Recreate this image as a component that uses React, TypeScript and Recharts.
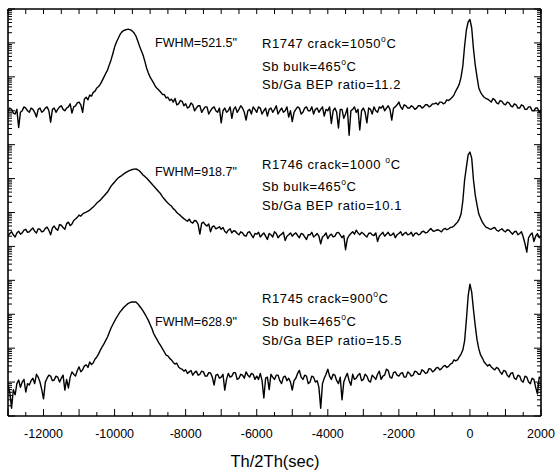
import React from 'react';
import { LineChart, Line, XAxis, YAxis } from 'recharts';

// Th/2Th positions (sec), 20 per row (one row = 1000 sec)
const xs = [
  -13000, -12950, -12900, -12850, -12800, -12750, -12700, -12650, -12600, -12550, -12500, -12450, -12400, -12350, -12300, -12250, -12200, -12150, -12100, -12050,
  -12000, -11950, -11900, -11850, -11800, -11750, -11700, -11650, -11600, -11550, -11500, -11450, -11400, -11350, -11300, -11250, -11200, -11150, -11100, -11050,
  -11000, -10950, -10900, -10850, -10800, -10750, -10700, -10650, -10600, -10550, -10500, -10450, -10400, -10350, -10300, -10250, -10200, -10150, -10100, -10050,
  -10000, -9950, -9900, -9850, -9800, -9750, -9700, -9650, -9600, -9550, -9500, -9450, -9400, -9350, -9300, -9250, -9200, -9150, -9100, -9050,
  -9000, -8950, -8900, -8850, -8800, -8750, -8700, -8650, -8600, -8550, -8500, -8450, -8400, -8350, -8300, -8250, -8200, -8150, -8100, -8050,
  -8000, -7950, -7900, -7850, -7800, -7750, -7700, -7650, -7600, -7550, -7500, -7450, -7400, -7350, -7300, -7250, -7200, -7150, -7100, -7050,
  -7000, -6950, -6900, -6850, -6800, -6750, -6700, -6650, -6600, -6550, -6500, -6450, -6400, -6350, -6300, -6250, -6200, -6150, -6100, -6050,
  -6000, -5950, -5900, -5850, -5800, -5750, -5700, -5650, -5600, -5550, -5500, -5450, -5400, -5350, -5300, -5250, -5200, -5150, -5100, -5050,
  -5000, -4950, -4900, -4850, -4800, -4750, -4700, -4650, -4600, -4550, -4500, -4450, -4400, -4350, -4300, -4250, -4200, -4150, -4100, -4050,
  -4000, -3950, -3900, -3850, -3800, -3750, -3700, -3650, -3600, -3550, -3500, -3450, -3400, -3350, -3300, -3250, -3200, -3150, -3100, -3050,
  -3000, -2950, -2900, -2850, -2800, -2750, -2700, -2650, -2600, -2550, -2500, -2450, -2400, -2350, -2300, -2250, -2200, -2150, -2100, -2050,
  -2000, -1950, -1900, -1850, -1800, -1750, -1700, -1650, -1600, -1550, -1500, -1450, -1400, -1350, -1300, -1250, -1200, -1150, -1100, -1050,
  -1000, -950, -900, -850, -800, -750, -700, -650, -600, -550, -500, -450, -400, -350, -300, -250, -200, -150, -100, -50,
  0, 50, 100, 150, 200, 250, 300, 350, 400, 450, 500, 550, 600, 650, 700, 750, 800, 850, 900, 950,
  1000, 1050, 1100, 1150, 1200, 1250, 1300, 1350, 1400, 1450, 1500, 1550, 1600, 1650, 1700, 1750, 1800, 1850, 1900, 1950,
  2000,
];

// R1747 intensities (counts)
const r1747 = [
  9.5, 12, 11, 8.5, 8, 11, 3.2, 9, 10, 13, 12, 10, 9, 12, 11, 9, 6.5, 11, 12, 9,
  10, 12, 13, 10, 4.6, 11, 12, 9, 11, 13, 14, 11, 10, 12, 13, 16, 8.5, 13, 14, 17,
  18, 15, 9, 22, 25, 21, 29, 27, 35, 38, 47, 52, 61, 77, 98, 125, 158, 225, 315, 480,
  755, 1050, 1350, 1750, 2080, 2300, 2400, 2500, 2520, 2420, 2230, 1950, 1600, 1150, 810, 600, 440, 290, 182, 130,
  98, 80, 65, 52, 45, 40, 35, 30, 30, 24, 25, 20, 22, 18, 23, 15, 16, 20, 19, 14,
  16, 12, 13, 17, 15, 10, 12, 14, 14, 9, 11, 13, 13, 8, 10, 12, 13, 10, 9, 12,
  4.4, 10, 12, 9, 10, 13, 6, 11, 13, 9, 11, 14, 12, 9, 5.3, 10, 11, 8, 13, 11,
  9, 13, 12, 8, 10, 12, 7, 11, 12, 9, 11, 14, 8, 10, 12, 9, 10, 13, 6.5, 10,
  4.8, 9, 11, 13, 12, 8, 9, 12, 13, 10, 10, 13, 8, 11, 12, 9, 11, 13, 7, 11,
  10, 13, 4.2, 10, 12, 9, 3.1, 11, 11, 6, 8, 12, 1.9, 10, 11, 13, 9, 11, 2.7, 10,
  12, 9, 4.4, 12, 11, 8, 13, 10, 9, 13, 12, 14, 10, 12, 14, 11, 5.3, 12, 13, 15,
  18, 13, 11, 15, 14, 12, 12, 14, 13, 11, 12, 14, 14, 12, 13, 15, 15, 13, 14, 16,
  16, 17, 15, 18, 18, 16, 17, 21, 20, 22, 25, 29, 38, 47, 61, 98, 208, 810, 2400, 4150,
  4900, 2750, 660, 220, 98, 47, 35, 29, 25, 23, 22, 20, 18, 23, 21, 17, 16, 20, 19, 16,
  15, 18, 17, 14, 13, 16, 15, 12, 12, 15, 14, 11, 11, 13, 13, 10, 10, 12, 12, 9,
  11,
];

// R1746 intensities (counts)
const r1746 = [
  20, 24, 27, 22, 19, 25, 28, 23, 25, 30, 32, 26, 27, 31, 35, 28, 25, 33, 32, 27,
  28, 34, 37, 30, 22, 35, 40, 33, 30, 44, 42, 36, 32, 47, 52, 41, 46, 58, 64, 72,
  84, 78, 90, 98, 103, 110, 118, 132, 145, 165, 190, 210, 232, 268, 305, 350, 400, 490, 600, 690,
  790, 920, 1040, 1140, 1230, 1350, 1470, 1580, 1680, 1780, 1850, 1900, 1920, 1820, 1680, 1480, 1280, 1160, 1040, 910,
  790, 690, 600, 530, 460, 400, 350, 290, 250, 215, 190, 170, 155, 130, 118, 100, 90, 82, 73, 66,
  60, 55, 64, 52, 49, 58, 56, 45, 23, 48, 52, 44, 40, 46, 27, 38, 40, 33, 35, 38,
  32, 36, 28, 25, 30, 33, 25, 29, 28, 24, 22, 27, 25, 21, 20, 26, 27, 22, 18, 24,
  23, 26, 19, 22, 25, 20, 16, 24, 22, 19, 27, 24, 18, 21, 23, 26, 15, 20, 22, 25,
  20, 23, 25, 21, 18, 24, 23, 19, 16, 22, 22, 26, 19, 21, 24, 20, 12, 19, 21, 25,
  17, 21, 23, 19, 20, 25, 26, 22, 18, 21, 8, 17, 21, 24, 27, 23, 30, 25, 22, 26,
  24, 21, 19, 24, 25, 22, 21, 25, 14, 20, 23, 26, 20, 23, 26, 21, 22, 25, 18, 22,
  24, 27, 21, 24, 26, 22, 23, 26, 20, 24, 25, 22, 23, 27, 28, 25, 26, 30, 34, 29,
  28, 30, 31, 29, 27, 32, 34, 31, 33, 36, 37, 40, 46, 52, 64, 90, 218, 910, 2190, 4970,
  6070, 4010, 910, 325, 166, 90, 68, 52, 43, 37, 35, 33, 32, 35, 36, 30, 28, 31, 33, 29,
  27, 31, 30, 26, 23, 27, 28, 22, 24, 27, 19, 12, 6.8, 18, 22, 25, 14, 20, 24, 18,
  20,
];

// R1745 intensities (counts)
const r1745 = [
  8.2, 5, 1.7, 6, 4.2, 9, 11.5, 7, 10, 12, 5.1, 9, 8.2, 11, 13, 9, 17, 14, 10, 6,
  3.2, 10, 13, 16, 15, 11, 11.5, 15, 14, 10, 13, 16, 5.8, 12, 6.7, 14, 20, 17, 15, 22,
  28, 20, 23, 30, 32, 27, 39, 33, 37, 48, 55, 68, 88, 110, 133, 170, 214, 290, 392, 500,
  633, 780, 950, 1150, 1340, 1550, 1750, 1950, 2140, 2250, 2300, 2320, 2300, 2050, 1750, 1500, 1250, 1020, 830, 660,
  500, 380, 270, 215, 175, 140, 116, 95, 77, 62, 59, 50, 45, 38, 34, 36, 28, 25, 24, 21,
  23, 18, 20, 22, 16, 19, 21, 16, 17, 21, 20, 15, 15, 19, 18.5, 14, 8.2, 16, 17, 13,
  14, 17, 5.8, 12, 18, 14, 15, 19, 19, 12, 13, 17, 16, 13, 20, 16, 14, 18, 17, 12,
  15, 12, 18, 11, 3.4, 13, 14, 6, 17, 14, 12, 16, 16, 11, 9, 14, 15, 11, 13, 10,
  5.8, 11, 13, 18, 22, 14, 12, 16, 15, 9, 10, 15, 14, 10, 11, 7, 1.7, 9, 13, 17,
  24, 15, 12, 17, 16, 11, 9, 14, 3.0, 10, 14, 18, 11, 8, 17, 12, 13, 16, 18, 11,
  12, 17, 15, 11, 10, 16, 14, 12, 17, 21, 12, 15, 16, 24, 22, 14, 13, 19, 20, 16,
  15, 18, 19, 14, 14, 20, 18, 15, 16, 21, 20, 17, 17, 23, 21, 18, 19, 25, 24, 20,
  22, 26, 27, 23, 25, 29, 31, 27, 29, 34, 36, 45, 42, 45, 55, 67, 88, 163, 680, 3460,
  7750, 4500, 1340, 452, 175, 95, 63, 51, 39, 34, 30, 33, 28, 25, 23, 27, 25, 20, 17, 22,
  21, 16, 14, 18, 19, 13, 12, 16, 15, 11, 10, 15, 14, 10, 9, 13, 12, 7, 4.5, 14,
  13,
];

// stacked log panels: each panel spans 4 decades
const panelDecades = 4;
const panelOffsets = [8, 4, 0]; // top, middle, bottom (in decades)
const minorMultipliers = [1, 2, 3, 4, 5, 6, 7, 8, 9];

const xTicks = [
  -13000, -12500, -12000, -11500, -11000, -10500, -10000, -9500, -9000, -8500, -8000,
  -7500, -7000, -6500, -6000, -5500, -5000, -4500, -4000, -3500, -3000, -2500, -2000,
  -1500, -1000, -500, 0, 500, 1000, 1500, 2000,
];
const xTickLabels = [-12000, -10000, -8000, -6000, -4000, -2000, 0, 2000];

const annotations = [
  { fwhm: 'FWHM=521.5"', fy: 47, lines: [['R1747 crack=1050', 'C'], ['Sb bulk=465', 'C'], ['Sb/Ga BEP ratio=11.2']], ly: [48, 71, 89] },
  { fwhm: 'FWHM=918.7"', fy: 176, lines: [['R1746 crack=1000 ', 'C'], ['Sb bulk=465', 'C'], ['Sb/Ga BEP ratio=10.1']], ly: [169, 191, 210] },
  { fwhm: 'FWHM=628.9"', fy: 326, lines: [['R1745 crack=900', 'C'], ['Sb bulk=465', 'C'], ['Sb/Ga BEP ratio=15.5']], ly: [303, 326, 345] },
];

const data = xs.map((x, i) => ({
  x,
  top: panelOffsets[0] + Math.log10(r1747[i]),
  mid: panelOffsets[1] + Math.log10(r1746[i]),
  bot: panelOffsets[2] + Math.log10(r1745[i]),
}));

const yTicks: number[] = [];
panelOffsets.forEach((off) => {
  for (let n = 0; n < panelDecades; n++) {
    minorMultipliers.forEach((k) => yTicks.push(off + n + Math.log10(k)));
  }
});
yTicks.push(12);

const FONT = '"Liberation Sans", Arial, Helvetica, sans-serif';
const isInt = (v: number) => Math.abs(v - Math.round(v)) < 1e-6;

const LeftTick = (props: any) => {
  const { x, y, payload } = props;
  const len = isInt(payload.value) ? 7 : 4;
  return <line x1={x} x2={x + len} y1={y} y2={y} stroke="#000" strokeWidth={1} />;
};
const RightTick = (props: any) => {
  const { x, y, payload } = props;
  const len = isInt(payload.value) ? 7 : 4;
  return <line x1={x - len} x2={x} y1={y} y2={y} stroke="#000" strokeWidth={1} />;
};
const TopTick = (props: any) => {
  const { x, y } = props;
  return <line x1={x} x2={x} y1={y} y2={y + 5} stroke="#000" strokeWidth={1} />;
};
const BottomTick = (props: any) => {
  const { x, y, payload } = props;
  const v = payload.value as number;
  const len = v % 1000 === 0 ? 7 : 4;
  return (
    <g>
      <line x1={x} x2={x} y1={y} y2={y - len} stroke="#000" strokeWidth={1} />
      {xTickLabels.includes(v) && (
        <text x={x} y={y + 22} textAnchor="middle" fontSize={12.5} fontFamily={FONT} fill="#000">
          {String(v)}
        </text>
      )}
    </g>
  );
};

const axisLine = { stroke: '#000', strokeWidth: 1.6 };

export default function App() {
  return (
    <div style={{ position: 'absolute', left: 0, top: 0, width: 557, height: 474, background: '#fff' }}>
      <LineChart width={557} height={474} data={data} margin={{ top: 0, right: 0, bottom: 0, left: 0 }}>
        <XAxis
          xAxisId={0}
          dataKey="x"
          type="number"
          domain={[-13000, 2000]}
          allowDataOverflow
          ticks={xTicks}
          interval={0}
          height={58}
          tickSize={0}
          tickMargin={0}
          tickLine={false}
          axisLine={axisLine}
          tick={<BottomTick />}
        />
        <XAxis
          xAxisId="top"
          orientation="top"
          dataKey="x"
          type="number"
          domain={[-13000, 2000]}
          allowDataOverflow
          ticks={xTicks}
          interval={0}
          height={9}
          tickSize={0}
          tickMargin={0}
          tickLine={false}
          axisLine={axisLine}
          tick={<TopTick />}
        />
        <YAxis
          yAxisId={0}
          type="number"
          domain={[0, 12]}
          allowDataOverflow
          ticks={yTicks}
          interval={0}
          width={8}
          tickSize={0}
          tickMargin={0}
          tickLine={false}
          axisLine={axisLine}
          tick={<LeftTick />}
        />
        <YAxis
          yAxisId="r"
          orientation="right"
          type="number"
          domain={[0, 12]}
          allowDataOverflow
          ticks={yTicks}
          interval={0}
          width={16}
          tickSize={0}
          tickMargin={0}
          tickLine={false}
          axisLine={axisLine}
          tick={<RightTick />}
        />
        <Line xAxisId="top" yAxisId={0} type="linear" dataKey="top" stroke="#000" strokeWidth={1.4} dot={false} isAnimationActive={false} strokeLinejoin="round" />
        <Line xAxisId={0} yAxisId="r" type="linear" dataKey="mid" stroke="#000" strokeWidth={1.4} dot={false} isAnimationActive={false} strokeLinejoin="round" />
        <Line xAxisId={0} yAxisId={0} type="linear" dataKey="bot" stroke="#000" strokeWidth={1.4} dot={false} isAnimationActive={false} strokeLinejoin="round" />
      </LineChart>
      <svg width={557} height={474} style={{ position: 'absolute', left: 0, top: 0, pointerEvents: 'none' }}>
        {annotations.map((a, i) => (
          <g key={i} fontFamily={FONT} fill="#000">
            <text x={155} y={a.fy} fontSize={12.5}>{a.fwhm}</text>
            {a.lines.map((ln, j) => (
              <text key={j} x={262} y={a.ly[j]} fontSize={13} letterSpacing={0.6}>
                {ln[0]}
                {ln.length > 1 && (
                  <>
                    <tspan fontSize={8.5} dy={-6}>o</tspan>
                    <tspan dy={6}>{ln[1]}</tspan>
                  </>
                )}
              </text>
            ))}
          </g>
        ))}
        <text x={275} y={467} textAnchor="middle" fontFamily={FONT} fontSize={16.5} fill="#000">
          Th/2Th(sec)
        </text>
      </svg>
    </div>
  );
}
